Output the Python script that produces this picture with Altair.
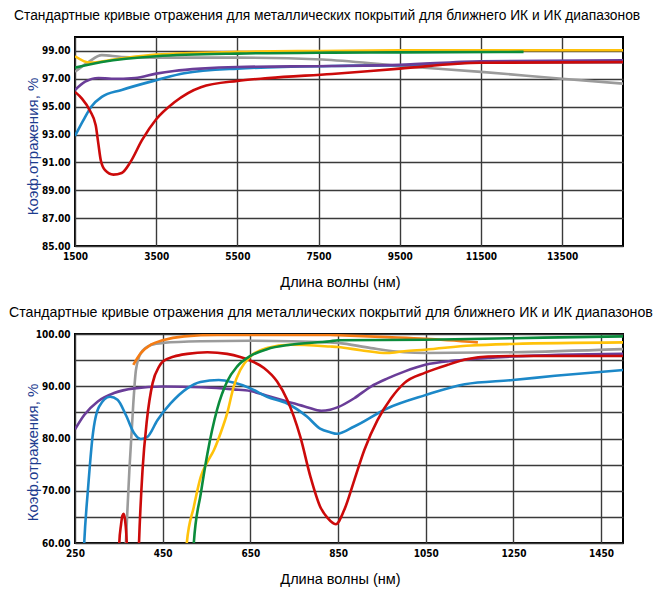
import altair as alt
import pandas as pd

TITLE = "Стандартные кривые отражения для металлических покрытий для ближнего ИК и ИК диапазонов"
X_TITLE = "Длина волны (нм)"
Y_TITLE = "Коэф.отражения, %"

# ---------- top chart (1500-15000 nm) ----------
TOP_X_TICKS = [1500, 3500, 5500, 7500, 9500, 11500, 13500]
TOP_Y_TICKS = [85, 87, 89, 91, 93, 95, 97, 99]

top_red_x = [1500, 1665, 1870, 2010, 2075, 2135, 2240, 2445, 2650, 2860, 3150, 3500, 3940, 4600, 5500, 6260, 7830, 9500, 11500, 15000]
top_red_y = [96.06, 95.6, 94.7, 93.66, 92.35, 91.15, 90.44, 90.12, 90.24, 91.0, 92.6, 94.1, 95.3, 96.4, 96.85, 97.05, 97.35, 97.73, 98.15, 98.2]

top_blue_x = [1500, 1700, 1900, 2160, 2650, 3500, 4190, 5500, 7830, 9500, 11500, 15000]
top_blue_y = [92.9, 94.0, 95.0, 95.7, 96.2, 96.9, 97.4, 97.73, 97.92, 97.97, 98.18, 98.2]

top_purple_x = [1500, 1750, 2080, 2400, 2980, 3500, 3940, 4600, 5500, 7830, 9500, 11500, 15000]
top_purple_y = [96.2, 96.8, 97.06, 97.0, 97.06, 97.37, 97.56, 97.73, 97.85, 97.92, 98.0, 98.26, 98.33]

top_gray_x = [1500, 1830, 2160, 2650, 3500, 5500, 7590, 9500, 11500, 13500, 15000]
top_gray_y = [97.5, 98.2, 98.7, 98.57, 98.52, 98.52, 98.38, 97.92, 97.5, 97.0, 96.65]

top_yellow_x = [1500, 1870, 2500, 3500, 5500, 7590, 9500, 15000]
top_yellow_y = [98.62, 98.16, 98.4, 98.74, 98.93, 99.0, 99.05, 99.05]

top_green_x = [1500, 2160, 3500, 5500, 7830, 9500, 12550]
top_green_y = [97.8, 98.2, 98.62, 98.81, 98.88, 98.9, 98.93]

# ---------- bottom chart (250-1500 nm) ----------
BOT_X_TICKS = [250, 450, 650, 850, 1050, 1250, 1450]
BOT_Y_TICKS = [60, 65, 70, 75, 80, 85, 90, 95, 100]

bot_gray_x = [360, 366, 374, 383, 389, 400, 423, 451, 537, 650, 832, 850, 925, 1001, 1049, 1249, 1500]
bot_gray_y = [50, 60, 73.9, 86.7, 93.1, 96.3, 97.9, 98.3, 98.6, 98.7, 98.4, 98.3, 97.3, 96.5, 96.35, 96.5, 97.1]

bot_orange_x = [383, 400, 423, 450, 499, 574, 832, 850, 963, 1049, 1169]
bot_orange_y = [94.1, 96.35, 97.95, 98.8, 99.55, 99.8, 99.8, 99.75, 99.4, 99.1, 98.4]

bot_purple_x = [250, 271, 302, 339, 385, 450, 537, 612, 650, 688, 734, 779, 812, 832, 850, 887, 925, 963, 1001, 1049, 1116, 1192, 1249, 1500]
bot_purple_y = [81.75, 84.5, 87.1, 88.7, 89.6, 89.95, 89.8, 89.4, 89.1, 88.2, 87.1, 86.0, 85.3, 85.5, 86.0, 87.7, 89.95, 91.5, 92.8, 94.1, 94.9, 95.4, 95.7, 96.2]

bot_blue_x = [266, 271, 280, 290, 305, 330, 347, 366, 385, 400, 415, 438, 468, 506, 536, 578, 612, 650, 688, 734, 779, 809, 832, 848, 887, 963, 1049, 1139, 1249, 1345, 1500]
bot_blue_y = [50, 60, 70.7, 80.3, 86.1, 88.0, 87.4, 84.5, 81.0, 79.9, 80.3, 83.5, 86.7, 89.6, 90.8, 91.2, 90.7, 89.6, 88.0, 86.7, 84.2, 81.9, 81.2, 80.9, 82.3, 85.8, 88.3, 90.4, 91.2, 92.0, 93.1]

bot_red_spike_x = [348, 351, 355, 358, 361, 364, 368, 371]
bot_red_spike_y = [50, 60, 63.5, 65.2, 65.6, 64.5, 60, 50]

bot_red_x = [393, 396, 404, 414, 427, 442, 451, 476, 506, 552, 597, 627, 650, 681, 711, 734, 764, 787, 809, 826, 845, 864, 887, 910, 940, 971, 1001, 1049, 1100, 1146, 1192, 1249, 1500]
bot_red_y = [52, 60, 73.9, 83.5, 90.6, 93.8, 94.8, 95.7, 96.2, 96.5, 96.2, 95.6, 94.9, 93.5, 90.9, 87.4, 80.3, 72.7, 67.0, 64.8, 63.6, 66.3, 72.0, 77.8, 83.5, 87.7, 90.6, 92.6, 94.1, 95.2, 95.7, 95.8, 95.8]

bot_yellow_x = [500, 505, 521, 537, 552, 567, 582, 597, 612, 627, 650, 688, 741, 832, 850, 902, 963, 1001, 1049, 1154, 1249, 1500]
bot_yellow_y = [50, 60, 66.9, 72.7, 75.5, 77.8, 81.0, 84.8, 89.95, 93.1, 95.7, 97.3, 97.95, 97.6, 97.5, 96.9, 96.35, 96.7, 97.0, 97.8, 98.1, 98.4]

bot_green_x = [516, 521, 537, 552, 574, 597, 620, 650, 688, 741, 832, 850, 1049, 1249, 1500]
bot_green_y = [50, 60, 69.5, 77.1, 85.5, 90.9, 93.8, 95.8, 97.1, 97.95, 98.6, 98.8, 98.9, 99.2, 99.55]

RED = "#cc0a0a"
BLUE = "#1c88c8"
PURPLE = "#6a3d98"
GRAY = "#9b9b9b"
YELLOW = "#ffc20a"
GREEN = "#0b8c3c"
ORANGE = "#f57c14"

LABEL_FONT = "Liberation Sans Narrow, DejaVu Sans Condensed, sans-serif"
TEXT_FONT = "Liberation Sans, Arial, sans-serif"


def make_panel(series, xdom, ydom, xticks, yticks, ylabel_expr,
               title_dx, title_offset, title_size, ytitle_y):
    xscale = alt.Scale(domain=xdom, nice=False, zero=False)
    yscale = alt.Scale(domain=ydom, nice=False, zero=False)
    xaxis = alt.Axis(values=xticks, format="d", title=X_TITLE, titlePadding=14,
                     labelFlush=False, titleX=265)
    yaxis = alt.Axis(values=yticks, labelExpr=ylabel_expr, title=Y_TITLE,
                     titleX=-35, titleY=ytitle_y)
    layers = []
    for xs, ys, col in series:
        df = pd.DataFrame({"wl": xs, "r": ys})
        layers.append(
            alt.Chart(df)
            .mark_line(clip=True, interpolate="monotone", strokeWidth=2.6, color=col)
            .encode(
                x=alt.X("wl:Q", scale=xscale, axis=xaxis),
                y=alt.Y("r:Q", scale=yscale, axis=yaxis),
            )
        )
    return alt.layer(*layers).properties(
        width=548,
        height=209,
        title=alt.TitleParams(
            TITLE, anchor="start", frame="group", dx=title_dx, offset=title_offset,
            fontSize=title_size, fontWeight="normal", font=TEXT_FONT, color="black",
        ),
    )


top = make_panel(
    [
        (top_gray_x, top_gray_y, GRAY),
        (top_yellow_x, top_yellow_y, YELLOW),
        (top_green_x, top_green_y, GREEN),
        (top_blue_x, top_blue_y, BLUE),
        (top_purple_x, top_purple_y, PURPLE),
        (top_red_x, top_red_y, RED),
    ],
    [1500, 15000], [85, 100], TOP_X_TICKS, TOP_Y_TICKS,
    "format(datum.value, '.2f')", -61, 14, 13.8, 109,
)

bottom = make_panel(
    [
        (bot_gray_x, bot_gray_y, GRAY),
        (bot_orange_x, bot_orange_y, ORANGE),
        (bot_purple_x, bot_purple_y, PURPLE),
        (bot_blue_x, bot_blue_y, BLUE),
        (bot_red_spike_x, bot_red_spike_y, RED),
        (bot_red_x, bot_red_y, RED),
        (bot_yellow_x, bot_yellow_y, YELLOW),
        (bot_green_x, bot_green_y, GREEN),
    ],
    [250, 1500], [60, 100], BOT_X_TICKS, BOT_Y_TICKS,
    "datum.value % 10 == 0 ? format(datum.value, '.2f') : ''", -66, 9, 14.2, 118,
)

chart = (
    alt.vconcat(top, bottom, spacing=14)
    .properties(padding={"left": 0, "top": 0, "right": 0, "bottom": 0})
    .configure_view(stroke="black", strokeWidth=2)
    .configure_axis(
        grid=True, gridColor="#3a3a3a", gridWidth=1.4, gridOpacity=1,
        domain=False, ticks=False,
        labelFont=LABEL_FONT, labelFontWeight="bold", labelFontSize=10,
        labelColor="black", labelPadding=5,
        titleFont=TEXT_FONT, titleFontSize=14.5, titleFontWeight="normal", titleColor="black",
    )
    .configure_axisY(titleColor="#1d3c8f", titleFontSize=15)
)

chart.save("out.html", embed_options={"renderer": "svg", "actions": False})
